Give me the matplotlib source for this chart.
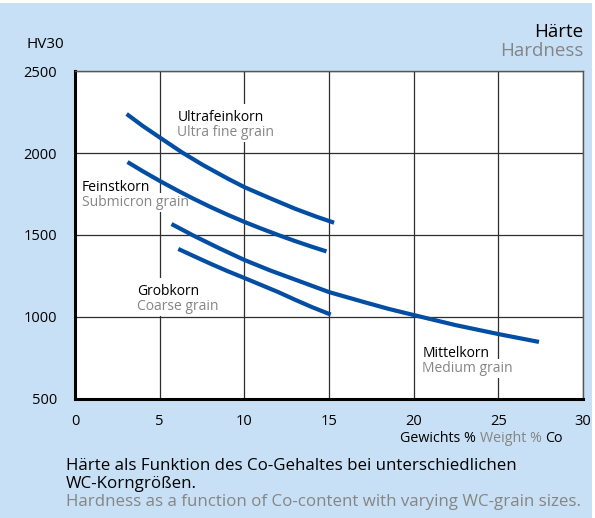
import matplotlib
import matplotlib.pyplot as plt
from matplotlib.patches import Rectangle

matplotlib.use("Agg", force=True)

# hardness curves, HV30 over Co content (weight %)
ultra_x = [3.05, 4.0, 5.0, 6.3, 7.5, 9.0, 10.0, 11.5, 13.0, 14.3, 15.3]
ultra_y = [2238, 2165, 2095, 2005, 1930, 1845, 1792, 1725, 1660, 1610, 1575]
fein_x = [3.1, 4.0, 5.0, 6.0, 7.0, 8.0, 9.0, 10.0, 11.0, 12.0, 13.0, 14.0, 14.85]
fein_y = [1945, 1889, 1830, 1774, 1721, 1671, 1624, 1580, 1539, 1500, 1463, 1428, 1400]
mittel_x = [5.7, 7.0, 8.5, 10.0, 11.5, 13.0, 15.0, 17.0, 18.5, 20.0, 22.5, 25.0, 27.4]
mittel_y = [1567, 1496, 1420, 1348, 1285, 1228, 1152, 1093, 1050, 1012, 950, 896, 848]
grob_x = [6.1, 7.0, 8.0, 9.0, 10.0, 11.0, 12.0, 13.0, 14.0, 15.1]
grob_y = [1415, 1372, 1325, 1280, 1238, 1195, 1152, 1105, 1060, 1015]

# (german, english, x, top y)
curve_labels = [
    ("Ultrafeinkorn", "Ultra fine grain", 6.05, 2262),
    ("Feinstkorn", "Submicron grain", 0.4, 1835),
    ("Grobkorn", "Coarse grain", 3.65, 1201),
    ("Mittelkorn", "Medium grain", 20.5, 823),
]

x_ticks = [0, 5, 10, 15, 20, 25, 30]
y_ticks = [500, 1000, 1500, 2000, 2500]

BG = "#c8e0f5"
BLUE = "#034ea2"
GREY = "#858585"

plt.rcParams["font.family"] = ["Open Sans", "DejaVu Sans"]

fig = plt.figure(figsize=(5.95, 5.18), dpi=100, facecolor=BG)
fig.patches.append(Rectangle((0, 1 - 3 / 518), 1, 3 / 518, transform=fig.transFigure,
                             facecolor="white", edgecolor="none", zorder=0))
fig.patches.append(Rectangle((1 - 3 / 595, 0), 3 / 595, 1, transform=fig.transFigure,
                             facecolor="white", edgecolor="none", zorder=0))

ax = fig.add_axes([75 / 595, 1 - 399 / 518, 508 / 595, 328 / 518])
ax.set_xlim(0, 30)
ax.set_ylim(500, 2500)
ax.set_facecolor("white")

ax.set_xticks(x_ticks)
ax.set_yticks(y_ticks)
ax.tick_params(axis="x", which="major", length=0, labelsize=10.5, pad=11)
ax.tick_params(axis="y", which="major", length=0, labelsize=10.5, pad=13)
ax.set_xticks([0], minor=True)
ax.set_yticks([500], minor=True)
ax.tick_params(axis="both", which="minor", length=6, width=2.2, color="black")
ax.grid(True, color="#2e2e2e", linewidth=0.9)
ax.set_axisbelow(True)

for side in ("left", "bottom"):
    ax.spines[side].set_linewidth(2.2)
    ax.spines[side].set_color("black")
for side in ("top", "right"):
    ax.spines[side].set_linewidth(1.0)
    ax.spines[side].set_color("#555555")

for xs, ys in ((ultra_x, ultra_y), (fein_x, fein_y), (mittel_x, mittel_y), (grob_x, grob_y)):
    ax.plot(xs, ys, color=BLUE, linewidth=3.0, solid_capstyle="butt",
            solid_joinstyle="round", zorder=3)

# two-line curve labels, each line on a white box that cuts the grid behind it
for de, en, lx, ly in curve_labels:
    ax.text(lx, ly, de, fontsize=10, color="black", va="top", ha="left", zorder=2.4,
            bbox=dict(facecolor="white", edgecolor="none", pad=4))
    ax.annotate(en, (lx, ly), xytext=(0, -11), textcoords="offset points",
                fontsize=10, color=GREY, va="top", ha="left", zorder=2.5,
                bbox=dict(facecolor="white", edgecolor="none", pad=1.5))

# headers
fig.text(27 / 595, 1 - 44 / 518, "HV30", fontsize=11, ha="left", va="center")
fig.text(583 / 595, 1 - 32 / 518, "Härte", fontsize=13.5, ha="right", va="center")
fig.text(583 / 595, 1 - 51 / 518, "Hardness", fontsize=13.5, ha="right", va="center", color=GREY)

# x axis title in two colours, built right to left
fig.canvas.draw()
renderer = fig.canvas.get_renderer()
x_right = 563 / 595
y_title = 1 - 438 / 518
for part, col in (("Co", "black"), ("Weight % ", GREY), ("Gewichts % ", "black")):
    t = fig.text(x_right, y_title, part, fontsize=10.3, ha="right", va="center", color=col)
    bb = t.get_window_extent(renderer)
    x_right = bb.x0 / fig.bbox.width

# caption below
fig.text(66 / 595, 1 - 466 / 518, "Härte als Funktion des Co-Gehaltes bei unterschiedlichen",
         fontsize=12.2, ha="left", va="center")
fig.text(66 / 595, 1 - 484 / 518, "WC-Korngrößen.", fontsize=12.2, ha="left", va="center")
fig.text(66 / 595, 1 - 502 / 518, "Hardness as a function of Co-content with varying WC-grain sizes.",
         fontsize=12.2, ha="left", va="center", color=GREY)

fig.savefig("out.png", dpi=100, facecolor=BG)
